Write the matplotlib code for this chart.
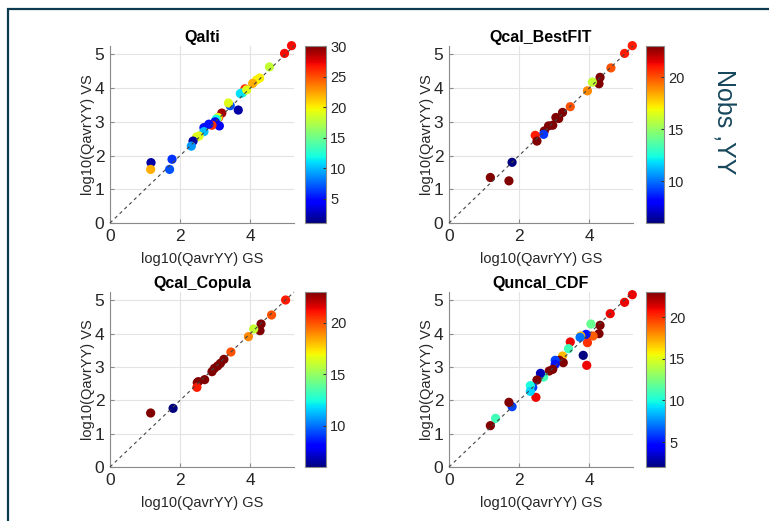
import matplotlib
matplotlib.use("Agg")
import matplotlib.pyplot as plt
from matplotlib.patches import Rectangle
import numpy as np

plt.rcParams['font.family'] = ['Liberation Sans', 'DejaVu Sans']

# ---- data ----
titles = ["Qalti", "Qcal_BestFIT", "Qcal_Copula", "Quncal_CDF"]

x_qalti = [5.18, 4.98, 4.55, 4.27, 4.18, 4.07, 3.85, 3.78, 3.72, 3.90, 3.43, 3.38, 3.66, 3.19, 3.10,
           3.08, 3.03, 3.00, 3.12, 2.91, 2.82, 2.68, 2.68, 2.54, 2.47, 2.37, 2.32, 1.77, 1.70, 1.17, 1.16]
y_qalti = [5.26, 5.03, 4.63, 4.30, 4.24, 4.14, 3.98, 3.86, 3.84, 3.95, 3.48, 3.56, 3.35, 3.26, 3.13,
           3.13, 3.08, 3.00, 2.88, 2.90, 2.93, 2.83, 2.71, 2.58, 2.55, 2.43, 2.28, 1.89, 1.59, 1.79, 1.59]
c_qalti = [27, 27, 18, 20, 20, 22, 26, 13, 11, 19, 7, 19, 2, 29, 27,
           19, 12, 4, 4, 26, 5, 5, 10, 19, 19, 2, 9, 6, 7, 2, 22]

x_best = [5.23, 5.01, 4.62, 4.31, 4.28, 4.09, 3.95, 3.46, 3.24, 3.13, 3.05, 2.96, 2.84, 2.72,
          2.70, 2.46, 2.51, 1.80, 1.18, 1.71]
y_best = [5.26, 5.03, 4.60, 4.32, 4.13, 4.18, 3.92, 3.45, 3.28, 3.10, 3.13, 2.90, 2.88, 2.73,
          2.63, 2.60, 2.43, 1.80, 1.35, 1.25]
c_best = [21, 21, 20, 23, 23, 16, 19, 20, 23, 23, 23, 23, 23, 23,
          9, 21, 23, 6, 23, 23]

x_cop = [5.01, 4.61, 4.31, 4.28, 4.10, 3.95, 3.45, 3.25, 3.15, 3.07, 2.98, 2.91, 2.70, 2.49,
         2.52, 2.48, 1.80, 1.16]
y_cop = [5.01, 4.56, 4.29, 4.09, 4.14, 3.91, 3.45, 3.23, 3.11, 3.03, 2.96, 2.86, 2.62, 2.53,
         2.56, 2.39, 1.76, 1.62]
c_cop = [21, 20, 23, 23, 16, 19, 20, 23, 23, 23, 23, 23, 23, 23,
         23, 21, 6, 23]

x_unc = [5.23, 5.01, 4.60, 4.31, 4.28, 4.05, 4.11, 3.95, 3.91, 3.76, 3.74, 3.83, 3.93, 3.46,
         3.41, 3.24, 3.26, 3.15, 3.03, 3.03, 2.96, 2.86, 2.70, 2.61, 2.51, 2.48, 2.39, 2.32,
         2.32, 1.80, 1.71, 1.33, 1.18]
y_unc = [5.17, 4.94, 4.60, 4.25, 4.00, 4.29, 3.93, 3.73, 3.98, 3.93, 3.89, 3.35, 3.05, 3.75,
         3.55, 3.33, 3.13, 3.20, 3.20, 3.08, 2.93, 2.88, 2.70, 2.81, 2.61, 2.09, 2.39, 2.44,
         2.27, 1.81, 1.94, 1.46, 1.24]
c_unc = [21, 21, 21, 23, 23, 12, 19, 20, 5, 17, 7, 2, 21, 21,
         11, 17, 23, 23, 6, 5, 23, 23, 11, 3, 23, 21, 6, 10,
         9, 6, 23, 11, 23]

xs = [x_qalti, x_best, x_cop, x_unc]
ys = [y_qalti, y_best, y_cop, y_unc]
cs = [c_qalti, c_best, c_cop, c_unc]
clims = [(1, 30), (6, 23), (6, 23), (2, 23)]
cticks = [[5, 10, 15, 20, 25, 30], [10, 15, 20], [10, 15, 20], [5, 10, 15, 20]]

W, H = 769, 521
fig = plt.figure(figsize=(W / 100, H / 100), dpi=100)

def fr(x0, y0, x1, y1):
    return [x0 / W, 1 - y1 / H, (x1 - x0) / W, (y1 - y0) / H]

ax_boxes = [(110, 46, 294, 223), (449, 46, 633, 223), (110, 292, 294, 467), (449, 292, 633, 467)]
cb_boxes = [(305, 46, 326, 223), (646, 46, 664, 223), (305, 292, 326, 467), (646, 292, 665, 467)]

lim = 5.25
for i in range(4):
    ax = fig.add_axes(fr(*ax_boxes[i]))
    cax = fig.add_axes(fr(*cb_boxes[i]))
    sc = ax.scatter(xs[i], ys[i], c=cs[i], cmap='jet', vmin=clims[i][0], vmax=clims[i][1],
                    s=44, edgecolors='none', zorder=3, clip_on=False)
    ax.plot([0, lim], [0, lim], linestyle=(0, (3, 3)), color='#444444', lw=0.8, zorder=4,
            clip_on=False)
    ax.set_xlim(0, lim)
    ax.set_ylim(0, lim)
    ax.set_xticks([0, 2, 4])
    ax.set_yticks([0, 1, 2, 3, 4, 5])
    ax.grid(True, color='#e3e3e3', lw=0.8)
    ax.set_axisbelow(True)
    for s in ['top', 'right']:
        ax.spines[s].set_visible(False)
    for s in ['left', 'bottom']:
        ax.spines[s].set_color('#8a8a8a')
        ax.spines[s].set_linewidth(0.8)
    ax.tick_params(direction='in', length=3, color='#8a8a8a', labelsize=12.5,
                   labelcolor='#262626', pad=4)
    ax.set_title(titles[i], fontsize=11.5, fontweight='bold', pad=3)
    ax.set_xlabel('log10(QavrYY) GS', fontsize=10.5, color='#262626', labelpad=6)
    ax.set_ylabel('log10(QavrYY) VS', fontsize=10.5, color='#262626', labelpad=0)
    cb = fig.colorbar(sc, cax=cax)
    cb.set_ticks(cticks[i])
    cb.outline.set_edgecolor('#8a8a8a')
    cb.outline.set_linewidth(0.8)
    cax.tick_params(direction='in', length=2.5, color='#333333', labelsize=10.5,
                    labelcolor='#262626', pad=3)

fig.text(725 / W, 1 - 122 / H, 'Nobs ,YY', rotation=-90, fontsize=18, color='#17475c',
         ha='center', va='center')

fig.patches.append(Rectangle((7.5, -10), W + 20, H - 9 + 10, transform=None, fill=False,
                             edgecolor='#0c3a4e', lw=1.6, figure=fig))

fig.savefig('out.png', dpi=100)
